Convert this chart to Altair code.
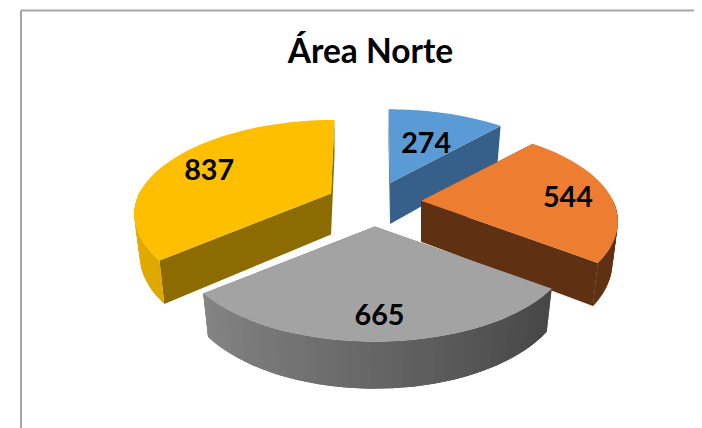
import math
import altair as alt

# --- data ---
title_text = "Área Norte"
names = ["A", "B", "C", "D"]
values = [274, 544, 665, 837]
top_colors = ["#5B9BD5", "#ED7D31", "#A3A3A3", "#FDBF00"]
edge_colors = ["#36608A", "#5F3012", "#6E6E6E", "#8C6C00"]
rim_left = ["#4A7FB0", "#6E3B18", "#8E8E8E", "#E3AB00"]
rim_right = ["#36608A", "#5F3012", "#3F3F3F", "#C49400"]
label_reach = [0.58, 0.78, 0.79, 0.75]
lean = [-1.5, 0.0, 0.0, 3.5]
draw_order = [0, 3, 1, 2]

# --- view model of the 3-D pie (screen pixels of the 702x428 window) ---
OFF = 8
CX, CY = 373.5, 202.8
A, B, K = 192.0, 89.8, 0.22
EXPLODE = 0.25
TOTAL = sum(values)


def ground(theta, r=1.0):
    X, Y = r * math.sin(theta), -r * math.cos(theta)
    d = 1 - K * Y
    return A * X / d, B * Y / d, Y


def top(apex, theta, r=1.0, tilt=0.0):
    x, y, Y = ground(theta, r)
    return [apex[0] + x + tilt * max(-Y, 0) - OFF, apex[1] + y - OFF]


def bottom(apex, theta, r=1.0, tilt=0.0):
    x, y, Y = ground(theta, r)
    return [apex[0] + 0.972 * x + tilt * max(-Y, 0) - OFF,
            apex[1] + y + 41 + 6 * Y * abs(Y) - OFF]


def mix(c1, c2, t):
    a = [int(c1[i:i + 2], 16) for i in (1, 3, 5)]
    b = [int(c2[i:i + 2], 16) for i in (1, 3, 5)]
    return "#%02x%02x%02x" % tuple(round(p + (q - p) * t) for p, q in zip(a, b))


def feature(ring, color):
    return {
        "type": "Feature",
        "geometry": {"type": "Polygon", "coordinates": [ring + [ring[0]]]},
        "properties": {"color": color},
    }


spans = []
start = 0.0
for v in values:
    end = start + v / TOTAL * 2 * math.pi
    spans.append((start, end))
    start = end

apexes = []
for s, e in spans:
    x, y, _ = ground((s + e) / 2, EXPLODE)
    apexes.append((CX + x, CY + y))

features = []
for i in draw_order:
    s, e = spans[i]
    ap = apexes[i]
    tl = lean[i]
    # flat side walls
    for th in (s, e):
        features.append(feature(
            [top(ap, th, 0), top(ap, th, 1, tl), bottom(ap, th, 1, tl), bottom(ap, th, 0)],
            edge_colors[i]))
    # curved outer wall, only the part that faces the viewer; strips overlap
    n = 40
    thetas = [s + (e - s) * k / n for k in range(n + 1)]
    visible = [th for th in thetas if math.cos(th) < 0.05]
    order = sorted(visible, key=lambda th: -math.sin(th))
    for j in range(len(order) - 1):
        a0 = order[j]
        far = order[min(j + 2, len(order) - 1)]
        t = (1 + math.sin(a0)) / 2  # t = 1 at viewer's right
        c = mix(rim_left[i], rim_right[i], t)
        mid = order[j + 1]
        ring = [top(ap, a0, 1, tl), top(ap, mid, 1, tl), top(ap, far, 1, tl),
                bottom(ap, far, 1, tl), bottom(ap, mid, 1, tl), bottom(ap, a0, 1, tl)]
        features.append(feature(ring, c))
    # top face
    ring = [top(ap, s, 0)] + [top(ap, th, 1, tl) for th in thetas]
    features.append(feature(ring, top_colors[i]))

labels = []
for i, (s, e) in enumerate(spans):
    p = top(apexes[i], (s + e) / 2, label_reach[i])
    labels.append({"px": p[0], "py": p[1] + 4, "txt": str(values[i])})

shapes = alt.Chart(alt.Data(values=features)).mark_geoshape(strokeWidth=0).encode(
    fill=alt.Color("properties.color:N", scale=None),
).project(type="identity", scale=1, translate=[0, 0])

text = alt.Chart(alt.Data(values=labels)).mark_text(
    font="Lato", fontWeight="bold", fontSize=28.7, color="#000000"
).encode(
    x=alt.X("px:Q", scale=None, axis=None),
    y=alt.Y("py:Q", scale=None, axis=None),
    text="txt:N",
)

title = alt.Chart(alt.Data(values=[{"px": 370.5 - OFF, "py": 53 - OFF, "txt": title_text}])).mark_text(
    font="Lato", fontWeight="bold", fontSize=33.5, color="#000000"
).encode(
    x=alt.X("px:Q", scale=None, axis=None),
    y=alt.Y("py:Q", scale=None, axis=None),
    text="txt:N",
)

frame = alt.Chart(alt.Data(values=[{"a": 1}])).mark_rule(color="#A6A6A6", strokeWidth=2)
top_line = frame.encode(x=alt.value(21 - OFF), x2=alt.value(686), y=alt.value(10.5 - OFF))
left_line = frame.encode(x=alt.value(21 - OFF), y=alt.value(10.5 - OFF), y2=alt.value(420))

chart = alt.layer(top_line, left_line, shapes, text, title).properties(
    width=686, height=420, padding=0, background="#FFFFFF",
    autosize=alt.AutoSizeParams(type="none"),
).configure_view(stroke=None)

chart.save("out.html", embed_options={"renderer": "svg", "actions": False})
